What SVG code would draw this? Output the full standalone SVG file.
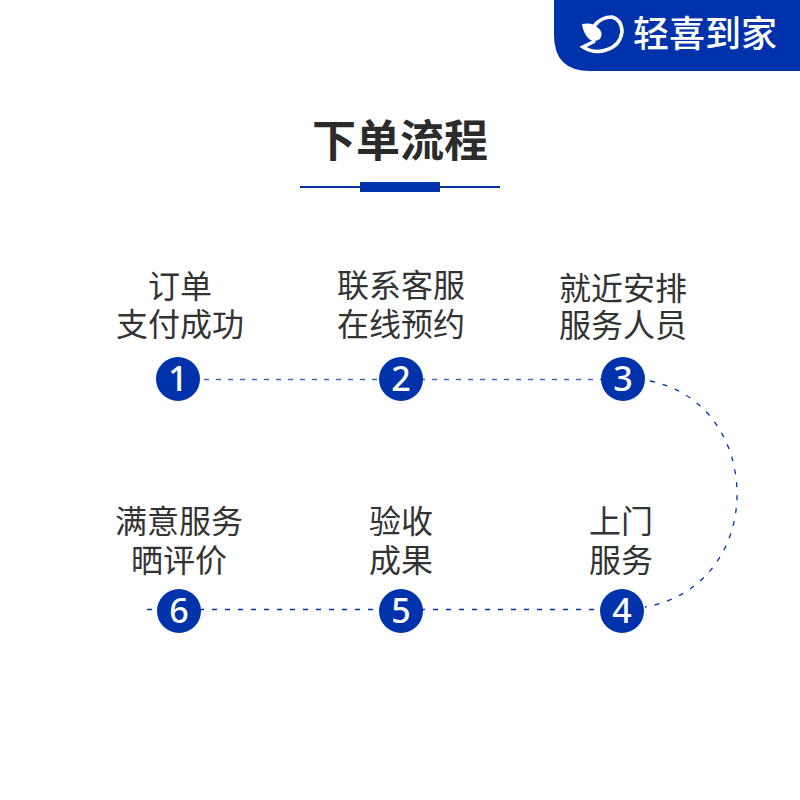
<svg xmlns="http://www.w3.org/2000/svg" width="800" height="800" viewBox="0 0 800 800">
<style>
text{font-family:"Noto Sans CJK SC","Noto Sans",sans-serif;text-anchor:middle}
.l{font-size:32px;fill:#333;font-weight:400}
.n{font-size:34px;fill:#fff;font-weight:500;font-family:"Noto Sans",sans-serif}
.c{fill:#0033ab}
.d{fill:none;stroke:#3f66c4;stroke-width:1.300;stroke-dasharray:5 7}
.a{fill:none;stroke:#0033ab;stroke-width:1.300;stroke-dasharray:5 8}
</style>
<rect width="800" height="800" fill="#fff"/>
<g id="badge">
<path class="c" d="M554 0H800V71H590Q554 71 554 35Z"/>
<path d="M594 26Q601 17 612 17Q622 20 622 32Q620 46 606 50Q594 54 583 47L595 41" fill="none" stroke="#fff" stroke-width="3.500"/>
<path d="M582 24Q592 22 597 27Q604 32 600 39Q594 43 589 39Q583 33 582 24Z" fill="#fff"/>
<text x="705" y="47" font-size="36" fill="#fff" style="font-weight:500">轻喜到家</text>
</g>
<g id="title">
<text x="400" y="157" font-size="44" fill="#2b2b2b" style="font-weight:700">下单流程</text>
<rect class="c" x="300" y="186" width="200" height="2"/>
<rect class="c" x="360" y="182" width="80" height="10"/>
</g>
<g id="connectors">
<path class="d" d="M156 379.500H645"/>
<path class="a" d="M650 381C705 392 737 440 737 494C737 552 700 598 645 607"/>
<path class="a" d="M147 609.500H622"/>
</g>
<g id="node1"><circle class="c" cx="178" cy="379" r="22"/><text class="n" x="178" y="391">1</text><text class="l" x="180" y="298">订单</text><text class="l" x="180" y="336">支付成功</text></g>
<g id="node2"><circle class="c" cx="401" cy="379" r="22"/><text class="n" x="401" y="391">2</text><text class="l" x="401" y="297">联系客服</text><text class="l" x="401" y="336">在线预约</text></g>
<g id="node3"><circle class="c" cx="623" cy="379" r="22"/><text class="n" x="623" y="391">3</text><text class="l" x="623" y="300">就近安排</text><text class="l" x="623" y="337">服务人员</text></g>
<g id="node4"><circle class="c" cx="622" cy="611" r="22"/><text class="n" x="622" y="623">4</text><text class="l" x="621" y="533">上门</text><text class="l" x="621" y="572">服务</text></g>
<g id="node5"><circle class="c" cx="401" cy="611" r="22"/><text class="n" x="401" y="623">5</text><text class="l" x="401" y="533">验收</text><text class="l" x="401" y="572">成果</text></g>
<g id="node6"><circle class="c" cx="179" cy="611" r="22"/><text class="n" x="179" y="623">6</text><text class="l" x="179" y="533">满意服务</text><text class="l" x="179" y="572">晒评价</text></g>
</svg>
